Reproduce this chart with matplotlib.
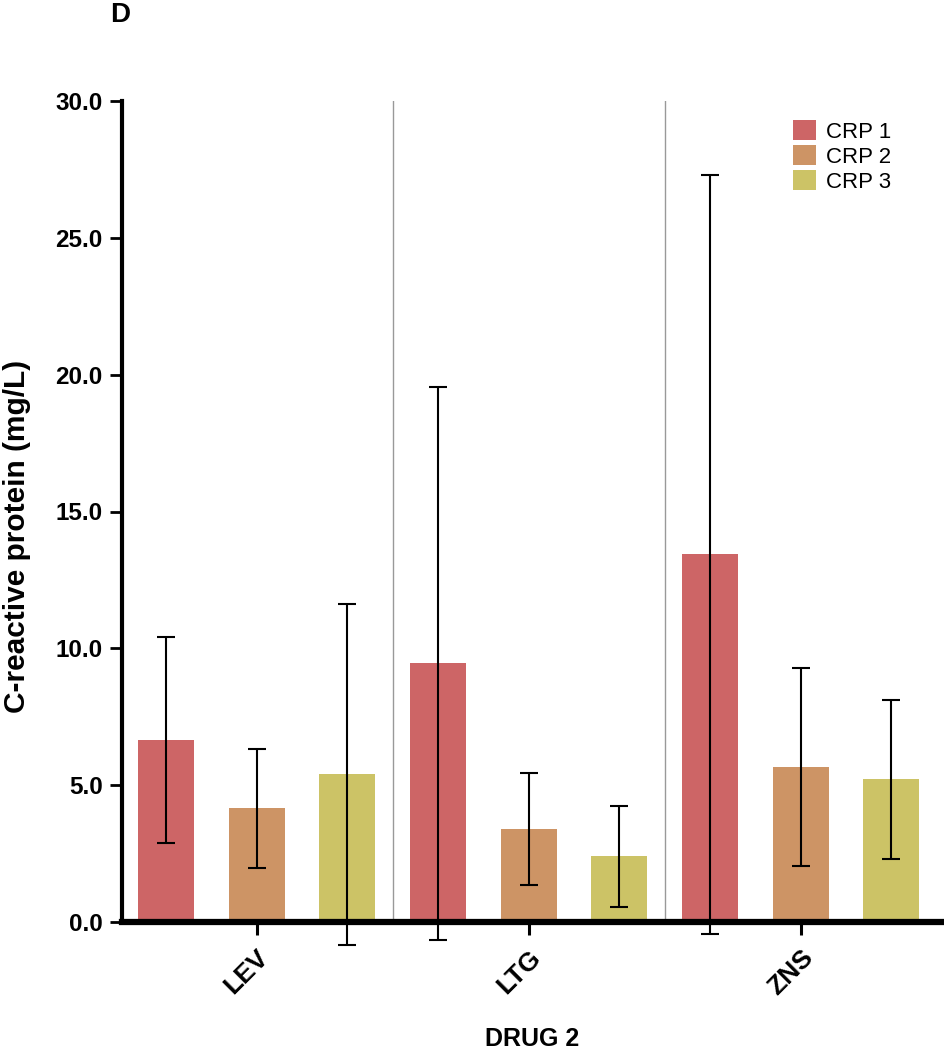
import numpy as np
import matplotlib.pyplot as plt

plt.rcParams['font.family'] = ['Liberation Sans', 'DejaVu Sans']

# Datos (mg/L)
drogas = ['LEV', 'LTG', 'ZNS']
series = ['CRP 1', 'CRP 2', 'CRP 3']
crp1 = [6.64, 9.45, 13.43]
crp1_err = [3.76, 10.10, 13.86]
crp2 = [4.15, 3.39, 5.67]
crp2_err = [2.18, 2.04, 3.62]
crp3 = [5.39, 2.40, 5.22]
crp3_err = [6.22, 1.85, 2.90]
yticks = [0.0, 5.0, 10.0, 15.0, 20.0, 25.0, 30.0]

valores = [crp1, crp2, crp3]
errores = [crp1_err, crp2_err, crp3_err]
cores = ['#CD6566', '#CD9465', '#CCC366']

fig = plt.figure(figsize=(9.45, 10.5), dpi=100)
ax = fig.add_axes([122/945, 1 - 922/1050, 821/945, 821/1050])

centros = np.arange(len(drogas)) * 3 + 1
for j, (vals, errs, cor, nome) in enumerate(zip(valores, errores, cores, series)):
    x = centros + (j - 1)
    ax.bar(x, vals, width=0.62, color=cor, label=nome, zorder=2)
    eb = ax.errorbar(x, vals, yerr=errs, fmt='none', ecolor='black',
                     elinewidth=1.5, capsize=6.3, capthick=1.5, zorder=3)
    for art in eb.lines[1] + eb.lines[2]:
        art.set_clip_on(False)

# separadores entre grupos
for s in centros[:-1] + 1.5:
    ax.axvline(s, color='#999999', linewidth=1.0, zorder=1)

ax.set_xlim(-0.485, 8.57)
ax.set_ylim(0, 30)
ax.set_yticks(yticks)
ax.set_yticklabels([f"{v:.1f}" for v in yticks], fontsize=17.5, fontweight='bold')
ax.set_xticks(centros)
ax.set_xticklabels(drogas, fontsize=19, fontweight='bold', rotation=45,
                   ha='right', va='top', rotation_mode='anchor')

ax.spines['top'].set_visible(False)
ax.spines['right'].set_visible(False)
ax.spines['left'].set_linewidth(3)
ax.spines['bottom'].set_linewidth(4.5)
ax.tick_params(axis='y', length=9, width=2, pad=5)
ax.tick_params(axis='x', length=9, width=2.2, pad=8)

ax.set_xlabel("DRUG 2", fontsize=18, fontweight='bold', va='top')
ax.xaxis.set_label_coords(0.5, -0.128)
ax.set_ylabel("C-reactive protein (mg/L)", fontsize=21.5, fontweight='bold', va='center')
ax.yaxis.set_label_coords(-0.128, 0.470)

fig.text(120/945, 1 - 15/1050, "D", fontsize=20, fontweight='bold',
         ha='center', va='center')

ax.legend(loc='upper left', bbox_to_anchor=(793/945, 1 - 120/1050),
          bbox_transform=fig.transFigure, frameon=False, fontsize=16,
          handlelength=1.05, handleheight=1.0, labelspacing=0.12,
          handletextpad=0.45, borderpad=0, borderaxespad=0)

plt.savefig("out.png", dpi=100)
